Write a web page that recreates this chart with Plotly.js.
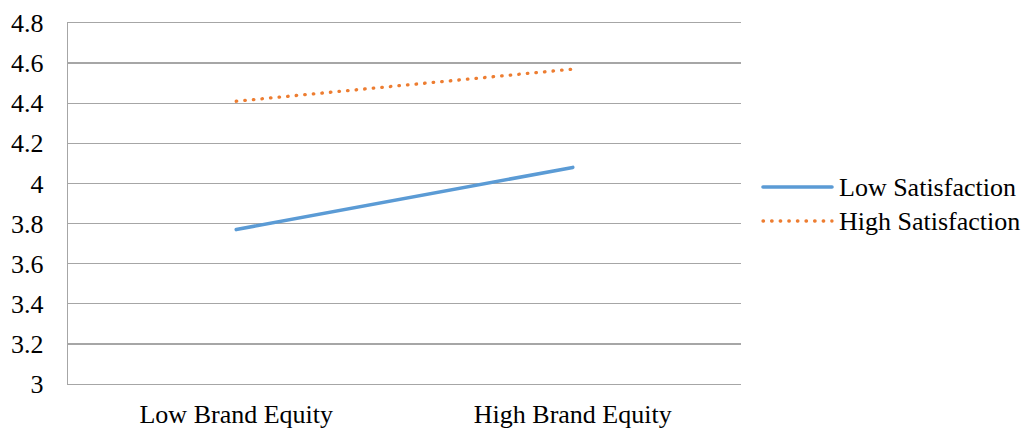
<!DOCTYPE html>
<html>
<head>
<meta charset="utf-8">
<script src="https://cdn.plot.ly/plotly-3.0.1.min.js"></script>
<style>
  html, body { margin: 0; padding: 0; background: #ffffff; }
  #chart { width: 1029px; height: 429px; }
  /* round ends turn the dotted series into round dots */
  .scatterlayer .js-line, .shapelayer path { stroke-linecap: round; }
  #chart text { font-family: 'Liberation Serif', 'Times New Roman', serif !important; }
</style>
</head>
<body>
<div id="chart"></div>
<script>
// Mean ratings by brand equity level, split by satisfaction group
const categories = ['Low Brand Equity', 'High Brand Equity'];
const lowSatisfaction = [3.77, 4.08];
const highSatisfaction = [4.41, 4.57];
const seriesNames = ['Low Satisfaction', 'High Satisfaction'];
const yTickValues = [3, 3.2, 3.4, 3.6, 3.8, 4, 4.2, 4.4, 4.6, 4.8];
const yTickLabels = ['3', '3.2', '3.4', '3.6', '3.8', '4', '4.2', '4.4', '4.6', '4.8'];

const BLUE = '#5B9BD5';
const ORANGE = '#ED7D31';
const GRID = '#a6a6a6';
const FONT = { family: 'Liberation Serif', size: 26, color: '#000000' };

const traces = [
  {
    x: categories, y: lowSatisfaction, name: seriesNames[0],
    type: 'scatter', mode: 'lines',
    line: { color: BLUE, width: 3.6 },
    showlegend: false, hoverinfo: 'skip'
  },
  {
    x: categories, y: highSatisfaction, name: seriesNames[1],
    type: 'scatter', mode: 'lines',
    line: { color: ORANGE, width: 3.3, dash: '0.5px,8.1px' },
    showlegend: false, hoverinfo: 'skip'
  }
];

// Legend drawn beside the plot: a sample stroke plus its label for each series
const legendRows = [
  { y: 0.5457, color: BLUE, width: 3.6, dash: 'solid', label: seriesNames[0] },
  { y: 0.4515, color: ORANGE, width: 3.3, dash: '0.5px,8.1px', label: seriesNames[1] }
];
const shapes = legendRows.map(r => ({
  type: 'line', xref: 'paper', yref: 'paper',
  x0: 1.0327, x1: 1.1352, y0: r.y, y1: r.y,
  line: { color: r.color, width: r.width, dash: r.dash }
}));
const annotations = legendRows.map(r => ({
  xref: 'paper', yref: 'paper', x: 1.1426, y: r.y - 0.002,
  xanchor: 'left', yanchor: 'middle', showarrow: false,
  text: r.label, font: FONT
}));

const layout = {
  width: 1029, height: 429,
  margin: { l: 68, r: 288, t: 23, b: 45, pad: 0 },
  paper_bgcolor: '#ffffff', plot_bgcolor: '#ffffff',
  font: FONT,
  showlegend: false,
  xaxis: {
    type: 'category', range: [-0.5, 1.5],
    showgrid: false, zeroline: false,
    showline: true, mirror: true, linecolor: GRID, linewidth: 1.4,
    ticks: '', ticklabelstandoff: 6,
    tickfont: FONT, fixedrange: true
  },
  yaxis: {
    range: [3, 4.8],
    tickmode: 'array', tickvals: yTickValues, ticktext: yTickLabels,
    showgrid: true, gridcolor: GRID, gridwidth: 1.4,
    zeroline: false,
    showline: true, linecolor: GRID, linewidth: 1.4,
    ticks: '', ticklabelstandoff: 18,
    tickfont: FONT, fixedrange: true
  },
  shapes: shapes,
  annotations: annotations
};

Plotly.newPlot('chart', traces, layout, { displayModeBar: false, staticPlot: true });
</script>
</body>
</html>
